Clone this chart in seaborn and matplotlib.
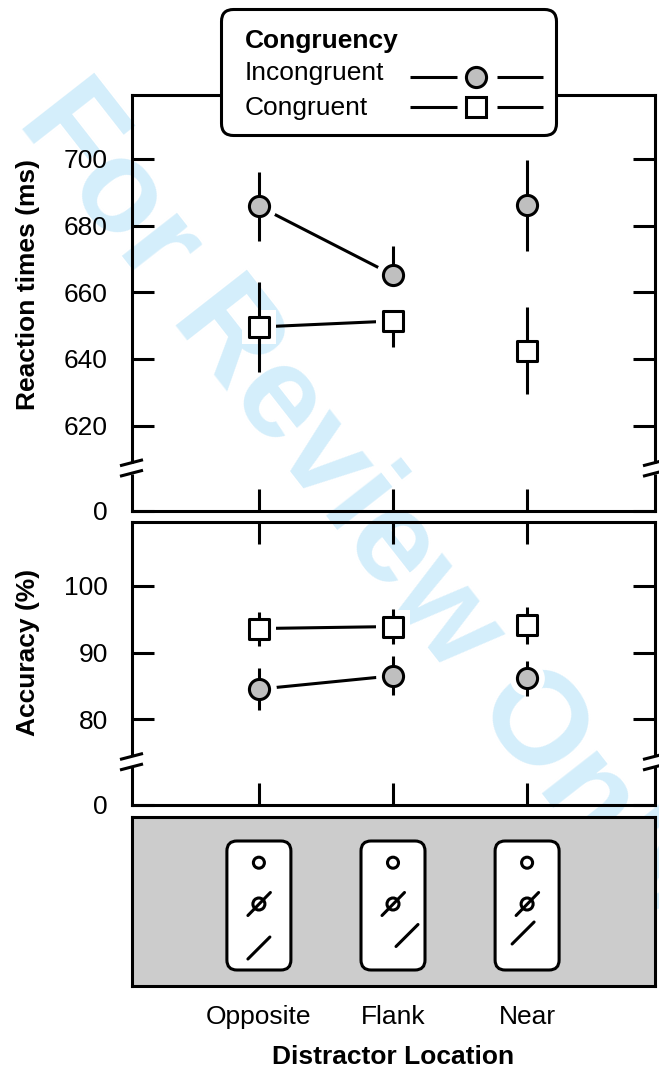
import numpy as np
import pandas as pd
import matplotlib
matplotlib.use("Agg")
import matplotlib.pyplot as plt
import seaborn as sns
from matplotlib.patches import FancyBboxPatch, Circle
from matplotlib.lines import Line2D
from matplotlib.transforms import IdentityTransform, Affine2D

# ---------------- data ----------------
categories = ["Opposite", "Flank", "Near"]
connected = ["Opposite", "Flank"]

rt_incongruent = [685.8, 665.2, 686.1]
rt_incongruent_err_low = [10.4, 0.0, 13.6]
rt_incongruent_err_high = [10.4, 8.7, 13.6]
rt_congruent = [649.6, 651.4, 642.4]
rt_congruent_err_low = [13.5, 7.8, 12.8]
rt_congruent_err_high = [13.5, 0.0, 13.3]

acc_incongruent = [84.5, 86.5, 86.1]
acc_incongruent_err = [3.1, 2.95, 2.7]
acc_congruent = [93.6, 93.9, 94.1]
acc_congruent_err = [2.55, 2.6, 2.8]

rt_ticks = [620, 640, 660, 680, 700]
acc_ticks = [80, 90, 100]

# ---------------- style ----------------
sns.set_theme(style="ticks")
plt.rcParams["font.family"] = ["Liberation Sans", "DejaVu Sans"]
plt.rcParams["text.color"] = "black"
plt.rcParams["axes.labelcolor"] = "black"
plt.rcParams["xtick.color"] = "black"
plt.rcParams["ytick.color"] = "black"
LW = 2.2
MS = 14.5
GRAY = "#bfbfbf"
FS = 19
W, H = 659, 1071

fig = plt.figure(figsize=(W / 100, H / 100), dpi=100)
fig.patch.set_facecolor("white")


def px_rect(l, t, r, b):
    return [l / W, 1 - b / H, (r - l) / W, (b - t) / H]


ax_rt = fig.add_axes(px_rect(131.5, 95, 654.5, 511))
ax_acc = fig.add_axes(px_rect(131.5, 522, 654.5, 805))
ax_icon = fig.add_axes(px_rect(131.5, 817, 654.5, 986))

XLIM = (-0.95, 2.95)
RT_LIM = (594.4, 719.2)
ACC_LIM = (67.1, 109.6)


def draw_series(ax, vals, lo, hi, marker, face):
    x = np.arange(len(categories))
    df = pd.DataFrame({"x": x, "y": vals, "cat": categories})
    conn = df[df["cat"].isin(connected)]
    sns.lineplot(data=conn, x="x", y="y", color="black", lw=LW, ax=ax,
                 zorder=1, legend=False)
    sns.scatterplot(data=df, x="x", y="y", marker=marker, s=(MS + 10.5) ** 2,
                    color="white", linewidth=0, ax=ax, zorder=2, legend=False)
    ax.errorbar(x, vals, yerr=[lo, hi], fmt="none", ecolor="black",
                elinewidth=LW, capsize=0, zorder=3)
    sns.scatterplot(data=df, x="x", y="y", marker=marker, s=MS ** 2,
                    color=face, edgecolor="black", linewidth=LW, ax=ax,
                    zorder=4, legend=False)


draw_series(ax_rt, rt_incongruent, rt_incongruent_err_low, rt_incongruent_err_high, "o", GRAY)
draw_series(ax_rt, rt_congruent, rt_congruent_err_low, rt_congruent_err_high, "s", "white")
draw_series(ax_acc, acc_incongruent, acc_incongruent_err, acc_incongruent_err, "o", GRAY)
draw_series(ax_acc, acc_congruent, acc_congruent_err, acc_congruent_err, "s", "white")

for ax, lim, ticks in ((ax_rt, RT_LIM, rt_ticks), (ax_acc, ACC_LIM, acc_ticks)):
    ax.set_facecolor("none")
    ax.set_xlim(*XLIM)
    ax.set_ylim(*lim)
    ax.set_xticks(range(len(categories)))
    ax.set_xticklabels([])
    ax.set_yticks([lim[0]] + ticks, labels=["0"] + [str(t) for t in ticks])
    ax.tick_params(axis="both", direction="in", length=16, width=LW,
                   labelsize=FS, pad=17, left=True, right=True, top=True,
                   bottom=True, labelbottom=False, colors="black",
                   labelcolor="black")
    ax.set_xlabel("")
    for sp in ax.spines.values():
        sp.set_linewidth(LW)
        sp.set_color("black")
        sp.set_visible(True)

ax_rt.set_ylabel("Reaction times (ms)", fontsize=FS, fontweight="bold",
                 va="center", color="black")
ax_rt.yaxis.set_label_coords(-0.198, 0.545)
ax_acc.set_ylabel("Accuracy (%)", fontsize=FS, fontweight="bold",
                  va="center", color="black")
ax_acc.yaxis.set_label_coords(-0.198, 0.539)

# ---------------- icon panel ----------------
ax_icon.set_facecolor("#cccccc")
ax_icon.set_xlim(*XLIM)
ax_icon.set_ylim(0, 1)
ax_icon.set_yticks([])
ax_icon.set_xticks(range(len(categories)), labels=categories)
ax_icon.tick_params(axis="x", length=0, pad=14, labelsize=FS,
                    colors="black", labelcolor="black")
for sp in ax_icon.spines.values():
    sp.set_linewidth(LW)
    sp.set_color("black")
    sp.set_visible(True)
ax_icon.set_xlabel("Distractor Location", fontsize=FS, fontweight="bold",
                   va="center", color="black")
ax_icon.xaxis.set_label_coords(0.5, (986 - 1057) / 169)

# distractor slash offsets (px, relative to icon centre, y downward)
slash_offsets = [(0, 46.5), (14, 34), (-4, 31.5)]
for i, (ox, oy) in enumerate(slash_offsets):
    cx, cy = ax_icon.transData.transform((i, 0.5))
    tr = Affine2D().scale(1, -1).translate(cx, cy)
    box = FancyBboxPatch((-32, -60.5), 64, 129,
                         boxstyle="round,pad=0,rounding_size=10",
                         facecolor="white", edgecolor="black", lw=LW,
                         transform=tr)
    ax_icon.add_patch(box)
    ax_icon.add_patch(Circle((0, -38.8), 5.5, facecolor="none",
                             edgecolor="black", lw=LW, transform=tr))
    ax_icon.add_patch(Circle((0, 2.5), 6, facecolor="none",
                             edgecolor="black", lw=LW, transform=tr))
    ax_icon.add_line(Line2D([-11, 11.5], [14, -9], color="black", lw=LW,
                            solid_capstyle="round", transform=tr))
    ax_icon.add_line(Line2D([ox - 11, ox + 11], [oy + 11, oy - 11],
                            color="black", lw=LW, solid_capstyle="round",
                            transform=tr))

# ---------------- axis breaks ----------------
def add_break(ax, yval):
    _, py = ax.transData.transform((0, yval))
    for xa in (0, 1):
        px, _ = ax.transAxes.transform((xa, 0))
        fig.add_artist(Line2D([px, px], [py - 5.5, py + 5.5],
                              transform=IdentityTransform(), color="white",
                              lw=5, solid_capstyle="butt", zorder=10))
        for dy in (-5.25, 5.25):
            fig.add_artist(Line2D([px - 11.5, px + 11.5],
                                  [py + dy - 3, py + dy + 3],
                                  transform=IdentityTransform(),
                                  color="black", lw=LW,
                                  solid_capstyle="butt", zorder=11))


add_break(ax_rt, 607.3)
add_break(ax_acc, 73.6)

# ---------------- legend ----------------
lax = fig.add_axes(px_rect(220, 8, 558, 137))
lax.set_zorder(5)
lax.set_xlim(0, 338)
lax.set_ylim(129, 0)
lax.axis("off")
lax.add_patch(FancyBboxPatch((1.5, 1.5), 335, 126,
                             boxstyle="round,pad=0,rounding_size=12",
                             facecolor="white", edgecolor="black", lw=LW,
                             clip_on=False))
lax.text(25, 39.7, "Congruency", fontsize=FS, fontweight="bold",
         ha="left", va="baseline", color="black")
legend_rows = [("Incongruent", "o", GRAY, 72, 68.5),
               ("Congruent", "s", "white", 107, 99)]
for label, mk, face, base, my in legend_rows:
    lax.text(25, base, label, fontsize=FS, ha="left", va="baseline",
             color="black")
    lax.plot([190, 237], [my, my], color="black", lw=LW, solid_capstyle="butt")
    lax.plot([277, 323], [my, my], color="black", lw=LW, solid_capstyle="butt")
    lax.plot([256], [my], marker=mk, ms=MS, mfc=face, mec="black", mew=LW,
             ls="none")

# ---------------- watermark ----------------
fig.text(362 / W, 1 - 508 / H, "For Review Only", rotation=-52,
         rotation_mode="anchor", ha="center", va="center", fontsize=95,
         fontweight="bold", color="#d4eefb", zorder=-1)

fig.savefig("out.png", dpi=100, facecolor="white")
